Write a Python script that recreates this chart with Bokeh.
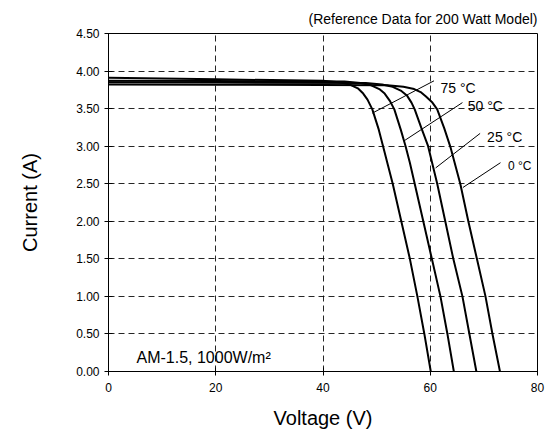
from bokeh.plotting import figure
from bokeh.models import Range1d, FixedTicker, PrintfTickFormatter, Label, Title
from bokeh.embed import file_html
from bokeh.resources import INLINE

# ---- data ----
v_75 = [0, 20, 40, 43, 45, 46.5, 47.5, 48.3, 49.2, 50.4, 51.2, 52.1, 53.0, 54.6, 56.2, 57.6, 58.9, 60.1]
i_75 = [3.91, 3.89, 3.87, 3.85, 3.82, 3.77, 3.70, 3.62, 3.49, 3.22, 3.00, 2.75, 2.50, 2.00, 1.50, 1.00, 0.50, 0.0]

v_50 = [0, 20, 44, 47, 49, 50.5, 51.5, 52.5, 53.3, 54.5, 55.4, 56.2, 57.1, 58.7, 60.3, 61.9, 63.2, 64.4]
i_50 = [3.87, 3.868, 3.86, 3.84, 3.81, 3.76, 3.70, 3.60, 3.49, 3.22, 3.00, 2.78, 2.50, 2.00, 1.50, 1.00, 0.50, 0.0]

v_25 = [0, 20, 48, 51, 53, 54.5, 55.7, 56.5, 57.1, 58.3, 59.6, 61.3, 62.8, 64.3, 66.0, 67.3, 68.6]
i_25 = [3.85, 3.848, 3.84, 3.82, 3.79, 3.74, 3.67, 3.58, 3.49, 3.25, 3.00, 2.50, 2.00, 1.50, 1.00, 0.50, 0.0]

v_0 = [0, 20, 52, 55, 57, 58.2, 59.2, 60.4, 61.3, 62.6, 63.8, 65.6, 67.1, 68.7, 70.3, 71.6, 73.0]
i_0 = [3.82, 3.818, 3.81, 3.79, 3.76, 3.72, 3.66, 3.58, 3.49, 3.24, 2.98, 2.50, 2.00, 1.50, 1.00, 0.50, 0.0]

temp_labels = ["75 °C", "50 °C", "25 °C", "0 °C"]
label_v = [61.9, 67.0, 70.6, 74.5]
label_i = [3.77, 3.54, 3.12, 2.73]
leader_v0 = [60.7, 66.0, 69.3, 73.1]
leader_i0 = [3.87, 3.58, 3.17, 2.78]
leader_v1 = [49.2, 55.1, 61.0, 66.1]
leader_i1 = [3.44, 3.07, 2.71, 2.45]

x_ticks = [0, 20, 40, 60, 80]
y_ticks = [0.0, 0.5, 1.0, 1.5, 2.0, 2.5, 3.0, 3.5, 4.0, 4.5]

FONT = "Liberation Sans"

title = Title(text="(Reference Data for 200 Watt Model)", align="right",
              text_font=FONT, text_font_size="14px", text_font_style="normal",
              text_color="black", standoff=13)

p = figure(frame_width=429, frame_height=338,
           min_border_left=108, min_border_right=10, min_border_top=33, min_border_bottom=62,
           x_range=Range1d(0, 80), y_range=Range1d(0, 4.5),
           output_backend="svg", toolbar_location=None,
           background_fill_color="white", border_fill_color="white")
p.title = title

p.outline_line_color = "black"
p.outline_line_width = 1
p.outline_line_alpha = 1

for ax in (p.xaxis[0], p.yaxis[0]):
    ax.axis_line_color = "black"
    ax.major_tick_line_color = "black"
    ax.major_tick_in = 4
    ax.major_tick_out = 4
    ax.minor_tick_line_color = None
    ax.major_label_text_font = FONT
    ax.major_label_text_font_size = "12px"
    ax.major_label_text_color = "black"
    ax.axis_label_text_font = FONT
    ax.axis_label_text_font_size = "20px"
    ax.axis_label_text_font_style = "normal"
    ax.axis_label_text_color = "black"

p.xaxis.ticker = FixedTicker(ticks=x_ticks)
p.yaxis.ticker = FixedTicker(ticks=y_ticks)
p.yaxis.formatter = PrintfTickFormatter(format="%.2f")
p.xaxis.axis_label = "Voltage (V)"
p.yaxis.axis_label = "Current (A)"
p.xaxis.major_label_standoff = 7
p.yaxis.major_label_standoff = 5
p.xaxis.axis_label_standoff = 12
p.yaxis.axis_label_standoff = 32

for g in (p.xgrid[0], p.ygrid[0]):
    g.grid_line_color = "black"
    g.grid_line_dash = "6 4"
    g.grid_line_width = 1
    g.grid_line_alpha = 0.85
p.xgrid.ticker = FixedTicker(ticks=x_ticks)
p.ygrid.ticker = FixedTicker(ticks=y_ticks)

for vv, ii in ((v_75, i_75), (v_50, i_50), (v_25, i_25), (v_0, i_0)):
    p.line(vv, ii, line_color="black", line_width=2)

p.segment(x0=leader_v0, y0=leader_i0, x1=leader_v1, y1=leader_i1,
          line_color="black", line_width=1)

for k, t in enumerate(temp_labels):
    p.add_layout(Label(x=label_v[k], y=label_i[k], text=t, text_font=FONT,
                       text_font_size=("12px" if k == 3 else "14px"),
                       text_color="black", text_baseline="alphabetic"))

p.add_layout(Label(x=5.22, y=0.186, text="AM-1.5, 1000W/m²", text_font=FONT,
                   text_font_size="16px", text_color="black", text_baseline="alphabetic"))

open("out.html", "w").write(file_html(p, INLINE))
